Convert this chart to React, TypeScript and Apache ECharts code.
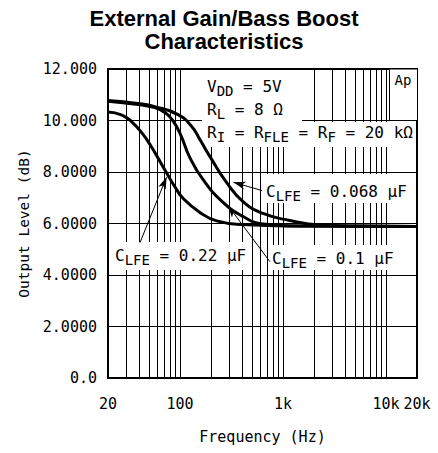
import { useEffect, useRef } from 'react';
import * as echarts from 'echarts';

// ---- data ----
const xTickValues = [20, 100, 1000, 10000, 20000];
const xTickLabels = ['20', '100', '1k', '10k', '20k'];
const yTickLabels = ['0.0', '2.0000', '4.0000', '6.0000', '8.0000', '10.000', '12.000'];
const xGridLines = [
  30, 40, 50, 60, 70, 80, 90, 100,
  200, 300, 400, 500, 600, 700, 800, 900, 1000,
  2000, 3000, 4000, 5000, 6000, 7000, 8000, 9000, 10000,
];

// C_LFE = 0.22 uF
const freq022 = [20, 27, 34, 43, 52, 62, 74, 90, 107, 156, 227, 409, 1460, 20000];
const level022 = [10.33, 10.22, 9.95, 9.5, 9.02, 8.5, 7.97, 7.4, 6.98, 6.43, 6.1, 5.96, 5.9, 5.88];

// C_LFE = 0.1 uF
const freq01 = [20, 39, 57, 71.5, 83.6, 100, 125, 167, 262, 409, 640, 1460, 20000];
const level01 = [10.75, 10.62, 10.5, 10.31, 10.04, 9.5, 8.55, 7.71, 6.82, 6.27, 5.98, 5.9, 5.88];

// C_LFE = 0.068 uF
const freq068 = [20, 39, 57, 95.6, 130, 156, 203, 284, 409, 640, 1160, 2280, 5570, 20000];
const level068 = [10.78, 10.66, 10.54, 10.23, 9.77, 9.26, 8.49, 7.59, 6.85, 6.39, 6.12, 5.94, 5.9, 5.88];

// annotation arrows: [from, to] in data coordinates (Hz, dB)
const arrow068 = [[625, 7.28], [330, 7.6]];
const arrow022 = [[40.9, 5.26], [74, 7.8]];
const arrow01 = [[746, 4.52], [292, 6.7]];

const MONO = '"DejaVu Sans Mono", monospace';

const richStyles = {
  m: { fontSize: 16, fontFamily: MONO, lineHeight: 24, verticalAlign: 'middle', fill: '#000' },
  s: { fontSize: 14, fontFamily: MONO, lineHeight: 12, verticalAlign: 'bottom', fill: '#000' },
};

function richText(x: number, y: number, text: string) {
  return {
    type: 'text',
    x,
    y,
    z: 4,
    silent: true,
    style: {
      text,
      rich: richStyles,
      fontSize: 16,
      fontFamily: MONO,
      fill: '#000',
      align: 'left',
      textAlign: 'left',
      verticalAlign: 'middle',
      textVerticalAlign: 'middle',
    },
  };
}

function whiteBox(x: number, y: number, w: number, h: number) {
  return {
    type: 'rect',
    z: 3,
    silent: true,
    shape: { x, y, width: w, height: h },
    style: { fill: '#fff', stroke: null },
  };
}

function curve(name: string, freq: number[], level: number[]) {
  return {
    type: 'line',
    name,
    data: freq.map((f, i) => [f, level[i]]),
    symbol: 'none',
    showSymbol: false,
    smooth: 0.5,
    silent: true,
    z: 5,
    lineStyle: { color: '#000', width: 3 },
  };
}

function arrow(a: number[][]) {
  return [
    { coord: a[0], symbol: 'none' },
    { coord: a[1], symbol: 'arrow', symbolSize: [6, 12] },
  ];
}

export default function App() {
  const ref = useRef<HTMLDivElement>(null);

  useEffect(() => {
    if (!ref.current) return;
    const chart = echarts.init(ref.current, undefined, { renderer: 'svg' });
    const option = {
      animation: false,
      backgroundColor: '#fff',
      grid: {
        left: 108,
        top: 69,
        width: 309,
        height: 309,
        show: true,
        borderColor: '#000',
        borderWidth: 2,
        backgroundColor: 'transparent',
      },
      xAxis: {
        type: 'log',
        logBase: 10,
        min: 20,
        max: 20000,
        name: 'Frequency (Hz)',
        nameLocation: 'middle',
        nameGap: 51,
        nameTextStyle: { fontFamily: MONO, fontSize: 15, color: '#000' },
        axisLine: { show: false },
        axisTick: { show: false },
        splitLine: { show: false },
        axisLabel: {
          show: true,
          showMinLabel: true,
          showMaxLabel: true,
          margin: 18,
          fontFamily: MONO,
          fontSize: 15,
          color: '#000',
          formatter: (v: number) => {
            let best = 0;
            for (let i = 1; i < xTickValues.length; i++) {
              if (Math.abs(Math.log10(v / xTickValues[i])) < Math.abs(Math.log10(v / xTickValues[best]))) best = i;
            }
            return xTickLabels[best];
          },
        },
      },
      yAxis: {
        type: 'value',
        min: 0,
        max: 12,
        interval: 2,
        name: 'Output Level (dB)',
        nameLocation: 'middle',
        nameGap: 67,
        nameTextStyle: { fontFamily: MONO, fontSize: 14.5, color: '#000' },
        axisLine: { show: false },
        axisTick: { show: false },
        splitLine: { show: true, lineStyle: { color: '#000', width: 1 } },
        axisLabel: {
          margin: 11,
          fontFamily: MONO,
          fontSize: 15,
          color: '#000',
          formatter: (v: number) => yTickLabels[Math.round(v / 2)] ?? '',
        },
      },
      series: [
        {
          type: 'line',
          name: 'grid',
          data: [],
          z: 1,
          silent: true,
          markLine: {
            z: 1,
            silent: true,
            symbol: ['none', 'none'],
            label: { show: false },
            lineStyle: { color: '#000', width: 1, type: 'solid' },
            emphasis: { disabled: true },
            data: xGridLines.map((v) => ({ xAxis: v })),
          },
        },
        curve('0.22 uF', freq022, level022),
        curve('0.1 uF', freq01, level01),
        curve('0.068 uF', freq068, level068),
        {
          type: 'line',
          name: 'arrows',
          data: [],
          z: 6,
          silent: true,
          markLine: {
            z: 6,
            silent: true,
            symbol: ['none', 'arrow'],
            label: { show: false },
            lineStyle: { color: '#000', width: 1, type: 'solid' },
            emphasis: { disabled: true },
            data: [arrow(arrow068), arrow(arrow022), arrow(arrow01)],
          },
        },
      ],
      graphic: [
        {
          type: 'text',
          x: 224,
          y: 7,
          silent: true,
          style: {
            text: 'External Gain/Bass Boost\nCharacteristics',
            fontSize: 22,
            fontWeight: 'bold',
            fontFamily: '"Liberation Sans", Arial, sans-serif',
            lineHeight: 23,
            fill: '#000',
            align: 'center',
            textAlign: 'center',
            verticalAlign: 'top',
            textVerticalAlign: 'top',
          },
        },
        whiteBox(202, 70, 100, 52),
        whiteBox(202, 122, 214, 25),
        richText(207, 86, '{m|V}{s|DD}{m| = 5V}'),
        richText(207, 109, '{m|R}{s|L}{m| = 8 Ω}'),
        richText(207, 132, '{m|R}{s|I}{m| = R}{s|FLE}{m| = R}{s|F}{m| = 20 kΩ}'),
        {
          type: 'rect',
          z: 3,
          silent: true,
          shape: { x: 389.5, y: 69, width: 28, height: 51.5 },
          style: { fill: '#fff', stroke: '#000', lineWidth: 1 },
        },
        {
          type: 'text',
          x: 403,
          y: 80,
          z: 4,
          silent: true,
          style: {
            text: 'Ap',
            fontSize: 14,
            fontFamily: MONO,
            fill: '#000',
            align: 'center',
            textAlign: 'center',
            verticalAlign: 'middle',
            textVerticalAlign: 'middle',
          },
        },
        whiteBox(262, 174, 154, 29),
        richText(266, 191, '{m|C}{s|LFE}{m| = 0.068 µF}'),
        whiteBox(110, 242, 137, 28),
        richText(115, 255, '{m|C}{s|LFE}{m| = 0.22 µF}'),
        whiteBox(268, 245, 148, 25),
        richText(272, 258, '{m|C}{s|LFE}{m| = 0.1 µF}'),
      ],
    };
    chart.setOption(option as any);
    return () => chart.dispose();
  }, []);

  return (
    <div
      ref={ref}
      style={{ position: 'fixed', left: 0, top: 0, width: 438, height: 453, background: '#fff' }}
    />
  );
}
